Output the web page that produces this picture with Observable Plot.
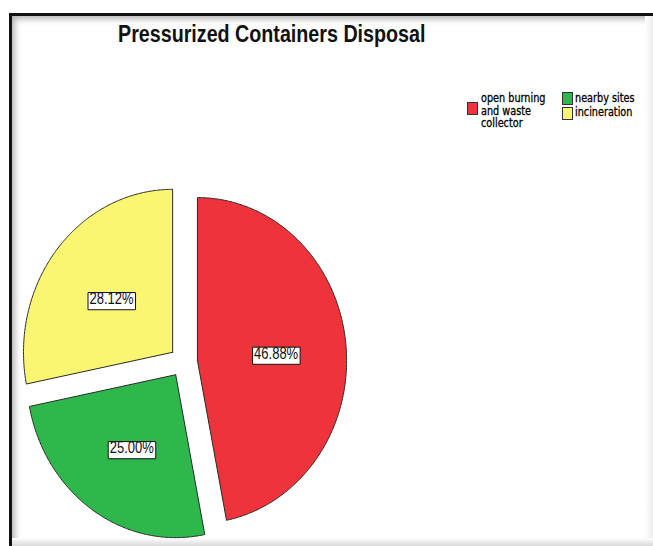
<!DOCTYPE html>
<html>
<head>
<meta charset="utf-8">
<script src="https://cdn.jsdelivr.net/npm/d3@7"></script>
<script src="https://cdn.jsdelivr.net/npm/@observablehq/plot@0.6"></script>
<style>
  html, body { margin: 0; padding: 0; background: #fff; width: 653px; height: 546px; overflow: hidden; position: relative; font-family: "Liberation Sans", Arial, sans-serif; }
  #frame { position: absolute; left: 9px; top: 13px; width: 720px; height: 600px; border-top: 3px solid #111; border-left: 3px solid #111; box-shadow: inset 5px 5px 6px -2px rgba(0,0,0,0.3); }
  #bottomshade { position: absolute; left: 12px; top: 538px; width: 653px; height: 8px; background: linear-gradient(#fff, #d8d8d8); }
  #rightshade { position: absolute; left: 645px; top: 16px; width: 8px; height: 530px; background: linear-gradient(90deg, #fff, #ececec); }
  #title { position: absolute; left: 118px; top: 22px; font-weight: bold; font-size: 19.7px; line-height: 20px; color: #111; transform: scaleY(1.18); transform-origin: 0 0; white-space: nowrap; }
  #chart { position: absolute; left: 4px; top: 166px; }
  .lg-sw { position: absolute; width: 9px; height: 11px; border: 1px solid #333; }
  .lg-tx { position: absolute; font-family: "DejaVu Sans", sans-serif; font-size: 9.7px; line-height: 10.5px; color: #000; -webkit-text-stroke: 0.25px #000; transform: scaleY(1.2); transform-origin: 0 0; white-space: nowrap; }
</style>
</head>
<body>
<div id="frame"></div>
<div id="rightshade"></div>
<div id="bottomshade"></div>
<div id="title"></div>
<div id="legend"></div>
<div id="chart"></div>
<script>
// ---- data ----
const titleText = "Pressurized Containers Disposal";
const categories = ["open burning and waste collector", "nearby sites", "incineration"];
const legendLines = [["open burning", "and waste", "collector"], ["nearby sites"], ["incineration"]];
const percents = [46.88, 25.00, 28.12];
const colors = ["#EF333B", "#2EB84C", "#FAF672"];

document.getElementById("title").textContent = titleText;

// ---- legend (HTML) ----
const legend = document.getElementById("legend");
const legendPos = [
  {sx: 467, sy: 102, tx: 481, ty: 92},
  {sx: 562, sy: 92, tx: 575, ty: 92},
  {sx: 562, sy: 107, tx: 575, ty: 106}
];
categories.forEach((c, i) => {
  const p = legendPos[i];
  const sw = document.createElement("div");
  sw.className = "lg-sw";
  sw.style.left = p.sx + "px"; sw.style.top = p.sy + "px";
  sw.style.background = colors[i];
  legend.appendChild(sw);
  const tx = document.createElement("div");
  tx.className = "lg-tx";
  tx.style.left = p.tx + "px"; tx.style.top = p.ty + "px";
  tx.innerHTML = legendLines[i].join("<br>");
  legend.appendChild(tx);
});

// ---- pie geometry from values ----
const arcs = d3.pie().sort(null).value(d => d)(percents);
const OFF = 0.094, LR = 0.53, STEP = Math.PI / 360;
const pts = [];
const labels = [];
arcs.forEach((a, i) => {
  const cat = categories[i];
  const m = (a.startAngle + a.endAngle) / 2;
  const ox = OFF * Math.sin(m), oy = OFF * Math.cos(m);
  pts.push({cat, x: ox, y: oy});
  for (let t = a.startAngle; t < a.endAngle; t += STEP) {
    pts.push({cat, x: ox + Math.sin(t), y: oy + Math.cos(t)});
  }
  pts.push({cat, x: ox + Math.sin(a.endAngle), y: oy + Math.cos(a.endAngle)});
  pts.push({cat, x: ox, y: oy});
  labels.push({cat, x: ox + LR * Math.sin(m), y: oy + LR * Math.cos(m), text: percents[i].toFixed(2) + "%"});
});

const plot = Plot.plot({
  width: 358,
  height: 391,
  margin: 0,
  x: {domain: [-1.2, 1.2], axis: null},
  y: {domain: [-1.2, 1.2], axis: null},
  color: {domain: categories, range: colors},
  style: {background: "transparent", overflow: "visible"},
  marks: [
    Plot.line(pts, {x: "x", y: "y", z: "cat", fill: "cat", stroke: "#2a2a2a", strokeWidth: 1, strokeLinejoin: "round"}),
    Plot.text(labels, {x: "x", y: "y", text: "text", fontSize: 13, fill: "#111", fontFamily: "Liberation Sans, Arial, sans-serif"})
  ]
});
document.getElementById("chart").appendChild(plot);

// boxed labels (white box with dark border), slightly stretched vertically like the reference
const NS = "http://www.w3.org/2000/svg";
plot.querySelectorAll("g[aria-label='text'] text").forEach(el => {
  const b = el.getBBox();
  const cx = b.x + b.width / 2, cy = b.y + b.height / 2 + 2;
  const base = el.getAttribute("transform") || "";
  const t = `${base} translate(0,2) translate(${cx},${cy}) scale(1,1.3) translate(${-cx},${-cy})`;
  el.setAttribute("transform", t);
  const r = document.createElementNS(NS, "rect");
  r.setAttribute("x", b.x - 1.5);
  r.setAttribute("y", cy - 6.6);
  r.setAttribute("width", b.width + 3);
  r.setAttribute("height", 13.2);
  r.setAttribute("fill", "#fff");
  r.setAttribute("stroke", "#111");
  r.setAttribute("stroke-width", 1);
  r.setAttribute("vector-effect", "non-scaling-stroke");
  r.setAttribute("transform", t);
  el.parentNode.insertBefore(r, el);
});
</script>
</body>
</html>
